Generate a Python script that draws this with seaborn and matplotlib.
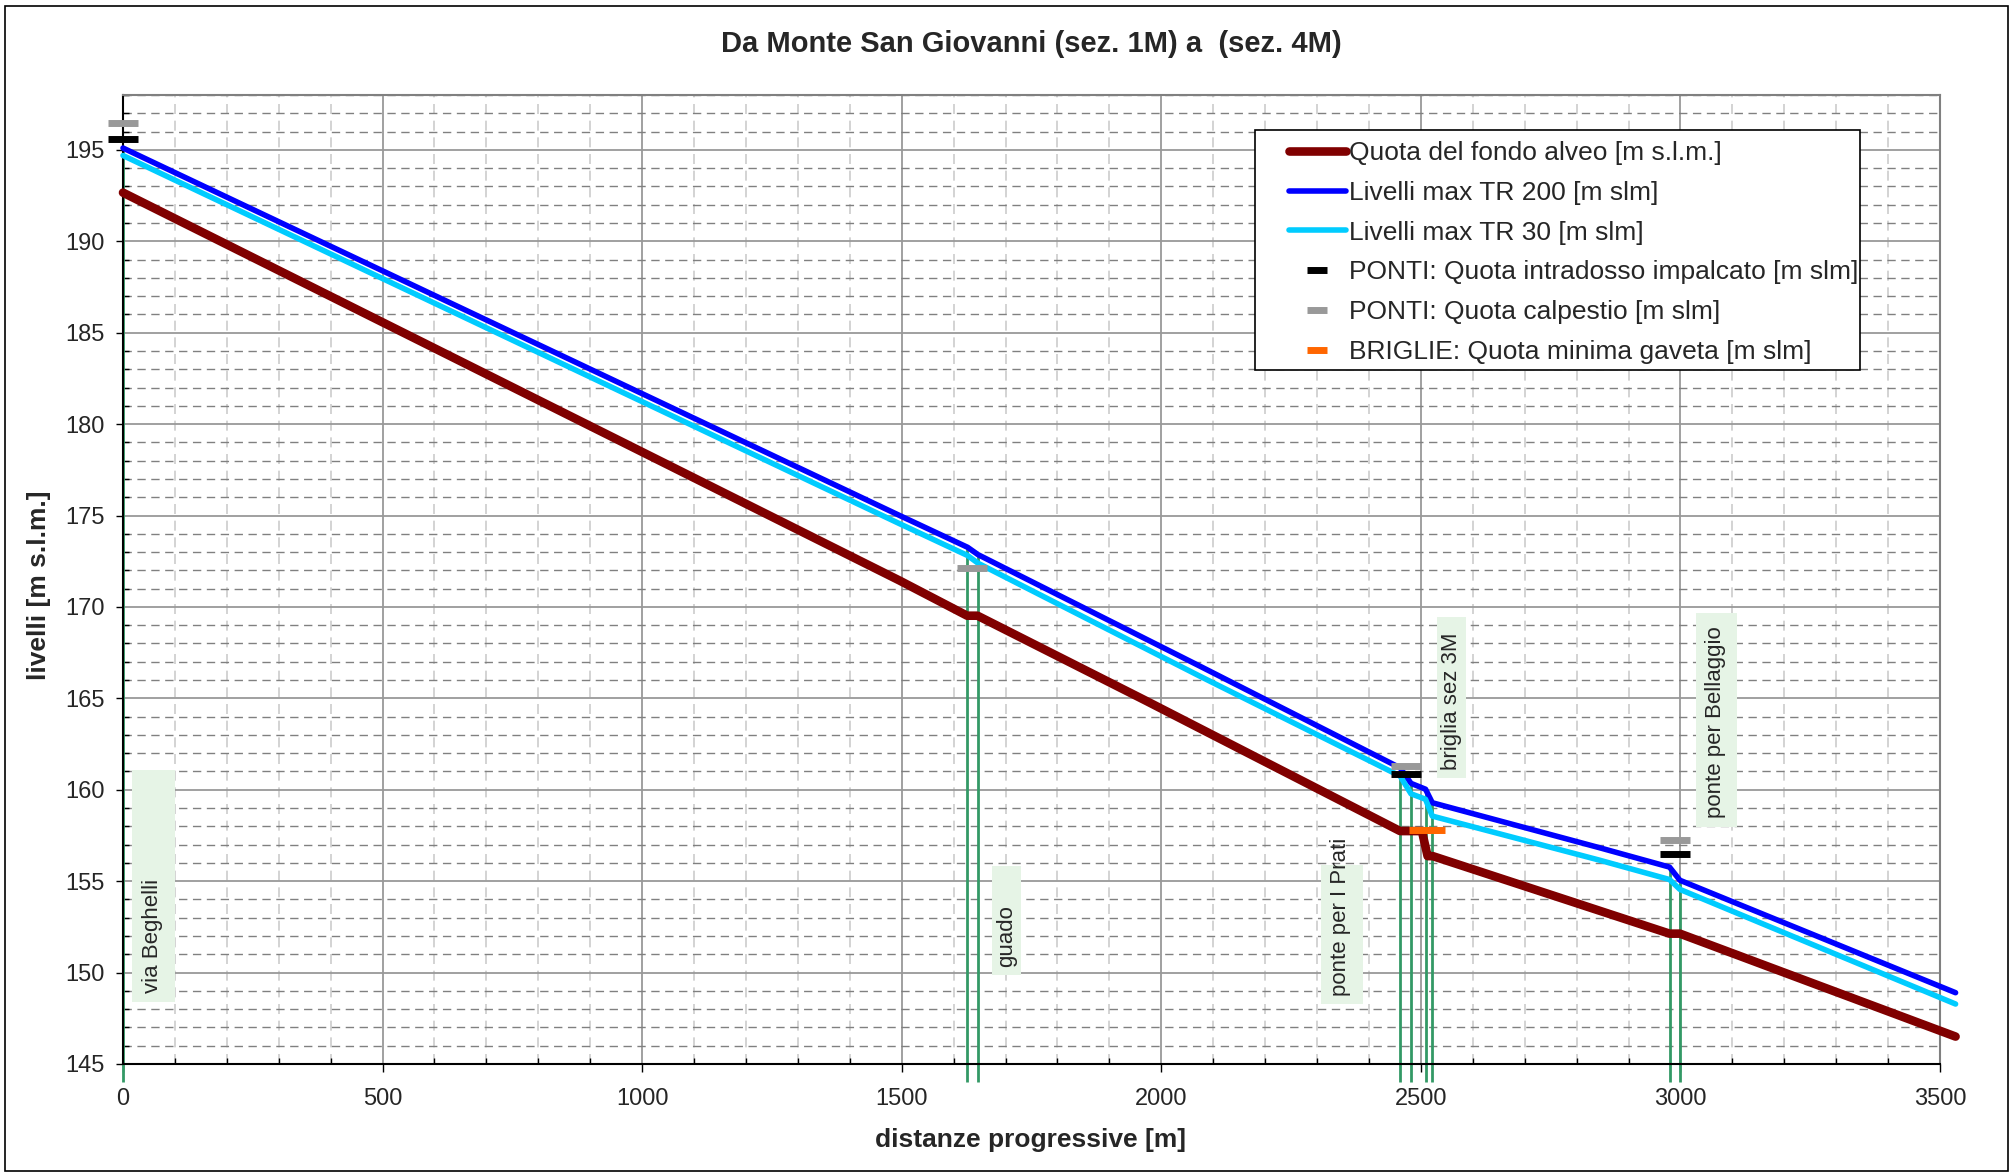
import numpy as np
import pandas as pd
import matplotlib
matplotlib.use('Agg')
import matplotlib.pyplot as plt
from matplotlib.lines import Line2D
from matplotlib.patches import Rectangle
from matplotlib.ticker import MultipleLocator
import seaborn as sns

sns.set_theme(style='white')
plt.rcParams['font.family'] = ['Liberation Sans', 'DejaVu Sans']

# profilo longitudinale (distanze progressive [m], quote [m s.l.m.])
dist_fondo = [0, 1496, 1626, 1646, 1971, 2460, 2502, 2513, 2523, 2979, 2999, 3530]
quota_fondo = [192.66, 171.44, 169.52, 169.52, 164.86, 157.74, 157.74, 156.37, 156.37,
               152.13, 152.13, 146.5]

dist_livelli = [0, 1496, 1627, 1647, 2073, 2460, 2481, 2509, 2522, 2844, 2979, 2999, 3530]
livelli_tr200 = [195.1, 175.0, 173.26, 172.86, 166.78, 161.2, 160.35, 160.03, 159.29,
                 156.83, 155.77, 155.05, 148.9]
livelli_tr30 = [194.69, 174.55, 172.81, 172.39, 166.23, 160.75, 159.78, 159.48, 158.56,
                156.15, 155.09, 154.55, 148.28]

# ponti e briglie
dist_intradosso = [0, 2471, 2989]
quota_intradosso = [195.59, 160.88, 156.5]
dist_calpestio = [0, 1636, 2471, 2989]
quota_calpestio = [196.46, 172.13, 161.32, 157.25]
dist_briglia = [2507, 2517]
quota_briglia = [157.81, 157.81]

# sezioni (linee verdi)
sezioni = [0, 1626, 1646, 2460, 2481, 2509, 2522, 2979, 2999]

nomi = ['via Beghelli', 'guado', 'ponte per I Prati', 'briglia sez 3M', 'ponte per Bellaggio']

GREEN = '#339966'
W, H = 2015, 1176

fig = plt.figure(figsize=(W / 100, H / 100), dpi=100)
ax = fig.add_axes([123 / W, 1 - 1064 / H, (1940 - 123) / W, (1064 - 95) / H])

df_fondo = pd.DataFrame({'dist': dist_fondo, 'quota': quota_fondo})
df_liv = pd.DataFrame({'dist': dist_livelli, 'tr200': livelli_tr200, 'tr30': livelli_tr30})

# sezioni verticali fino al livello TR200
top = np.interp(sezioni, dist_livelli, livelli_tr200)
ax.vlines(sezioni, 144.0, top, colors=GREEN, lw=2, clip_on=False, zorder=2)

sns.lineplot(data=df_fondo, x='dist', y='quota', ax=ax, color='#800000', lw=6.2,
             sort=False, estimator=None, clip_on=False, zorder=3)
sns.lineplot(data=df_liv, x='dist', y='tr200', ax=ax, color='#0000FF', lw=4.0,
             sort=False, estimator=None, clip_on=False, zorder=4)
sns.lineplot(data=df_liv, x='dist', y='tr30', ax=ax, color='#00CCFF', lw=4.0,
             sort=False, estimator=None, clip_on=False, zorder=4)

mk = dict(marker='_', ms=21, mew=5, ls='none', clip_on=False, zorder=6)
ax.plot(dist_calpestio, quota_calpestio, color='#999999', **mk)
ax.plot(dist_intradosso, quota_intradosso, color='black', **mk)
ax.plot(dist_briglia, quota_briglia, color='#FF6600', **mk)

# etichette con riquadro verde chiaro: (x0, x1, y0, y1, x testo, y testo)
box_pos = [(18, 100, 148.4, 161.1, 56, 148.9),
           (1674, 1729, 149.85, 155.82, 1702, 150.3),
           (2308, 2388, 148.28, 155.9, 2345, 148.7),
           (2532, 2586, 160.66, 169.47, 2559, 161.1),
           (3030, 3109, 157.96, 169.68, 3068, 158.45)]
for name, (x0, x1, y0, y1, tx, ty) in zip(nomi, box_pos):
    ax.add_patch(Rectangle((x0, y0), x1 - x0, y1 - y0, facecolor='#e6f4e6',
                           edgecolor='none', zorder=2.5))
    ax.text(tx, ty, name, rotation=90, ha='center', va='bottom', fontsize=16, zorder=7)

ax.set_xlim(0, 3500)
ax.set_ylim(145, 198)
ax.xaxis.set_major_locator(MultipleLocator(500))
ax.xaxis.set_minor_locator(MultipleLocator(100))
ax.yaxis.set_major_locator(MultipleLocator(5))
ax.yaxis.set_minor_locator(MultipleLocator(1))
ax.set_axisbelow(True)
ax.grid(which='major', color='#999999', lw=1.3, ls='-')
ax.xaxis.grid(True, which='minor', color='#cccccc', lw=1.2, ls=(0, (6, 4)))
ax.yaxis.grid(True, which='minor', color='#808080', lw=1.0, ls=(0, (6, 4)))
ax.set_xlabel('')
ax.set_ylabel('')

ax.tick_params(which='both', bottom=True, left=True, color='black', width=1)
ax.tick_params(axis='x', which='major', direction='out', length=6, labelsize=17, pad=11)
ax.tick_params(axis='y', which='major', direction='out', length=5, labelsize=17, pad=8)
ax.tick_params(axis='both', which='minor', direction='in', length=4.5)
for s in ['left', 'bottom']:
    ax.spines[s].set_color('black')
    ax.spines[s].set_linewidth(1.5)
for s in ['top', 'right']:
    ax.spines[s].set_color('#808080')
    ax.spines[s].set_linewidth(1.5)

fig.text(1031 / W, 1 - 44 / H, 'Da Monte San Giovanni (sez. 1M) a  (sez. 4M)',
         ha='center', va='center', fontsize=21, fontweight='bold')
fig.text(1031 / W, 1 - 1140 / H, 'distanze progressive [m]',
         ha='center', va='center', fontsize=19, fontweight='bold')
fig.text(39 / W, 1 - 585 / H, 'livelli [m s.l.m.]', rotation=90,
         ha='center', va='center', fontsize=19, fontweight='bold')

# legenda
fig.add_artist(Rectangle((1255 / W, 1 - 370 / H), 605 / W, 240 / H, transform=fig.transFigure,
                         facecolor='white', edgecolor='black', lw=1.2, zorder=4))
handles = [Line2D([], [], color='#800000', lw=6.2, solid_capstyle='round'),
           Line2D([], [], color='#0000FF', lw=4.0, solid_capstyle='round'),
           Line2D([], [], color='#00CCFF', lw=4.0, solid_capstyle='round'),
           Line2D([], [], color='black', marker='_', ms=14, mew=5, ls='none'),
           Line2D([], [], color='#999999', marker='_', ms=14, mew=5, ls='none'),
           Line2D([], [], color='#FF6600', marker='_', ms=14, mew=5, ls='none')]
labels = ['Quota del fondo alveo [m s.l.m.]', 'Livelli max TR 200 [m slm]',
          'Livelli max TR 30 [m slm]', 'PONTI: Quota intradosso impalcato [m slm]',
          'PONTI: Quota calpestio [m slm]', 'BRIGLIE: Quota minima gaveta [m slm]']
leg = fig.legend(handles, labels, loc='upper left', bbox_to_anchor=(1289 / W, 1 - 141 / H),
                 frameon=False, fontsize=19, handlelength=2.15, handletextpad=0.12,
                 labelspacing=0.6, borderpad=0, borderaxespad=0)
leg.set_zorder(5)

fig.add_artist(Rectangle((5 / W, 5 / H), 2003 / W, 1165 / H, transform=fig.transFigure,
                         facecolor='none', edgecolor='black', lw=1.2))

fig.savefig('out.png', dpi=100)
